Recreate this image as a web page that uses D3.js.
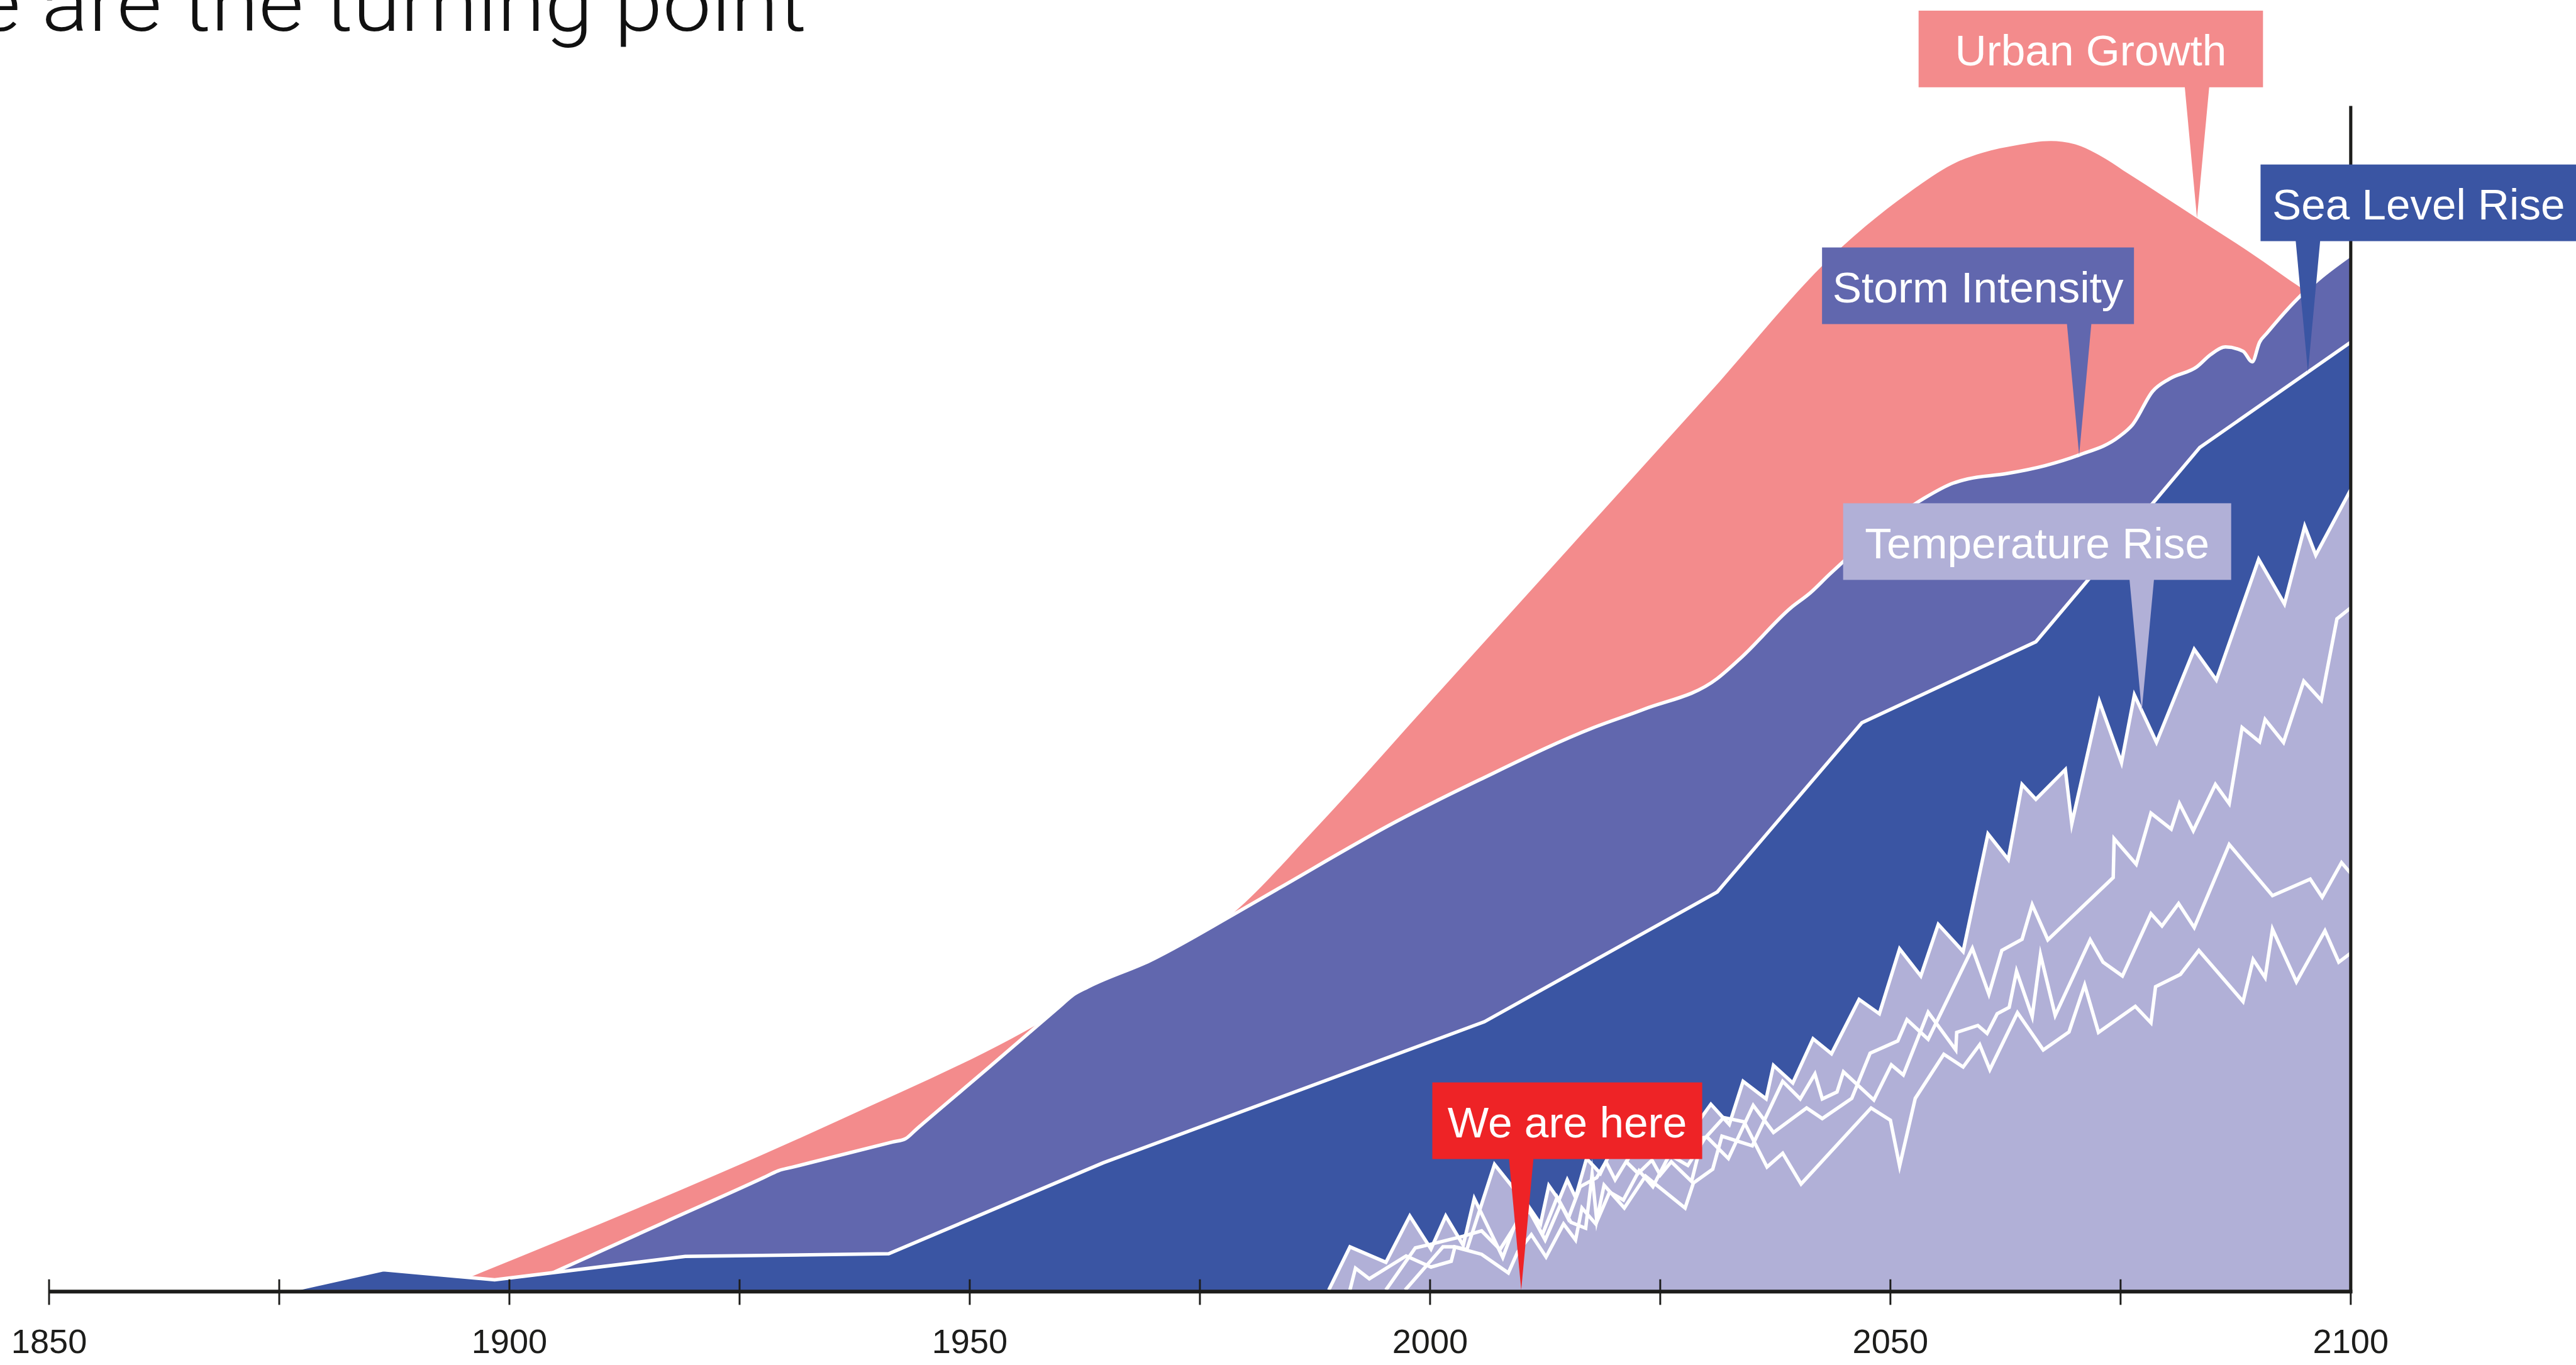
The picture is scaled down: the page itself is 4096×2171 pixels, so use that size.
<!DOCTYPE html>
<html><head><meta charset="utf-8">
<script src="https://cdn.jsdelivr.net/npm/d3@7/dist/d3.min.js"></script>
<style>html,body{margin:0;padding:0;background:#fff;overflow:hidden}</style>
</head><body>
<svg id="chart" width="4096" height="2171" viewBox="0 0 4839 2565"></svg>
<script>
// ---------------- DATA ----------------
const titleText = "We are the turning point";
const tickYears = [1850, 1875, 1900, 1925, 1950, 1975, 2000, 2025, 2050, 2075, 2100];
const tickLabels = [1850, 1900, 1950, 2000, 2050, 2100];

const urbanGrowth = [[1892.3,0],[1935.7,31.8],[1954.5,47.2],[1966,58.5],[1978.6,70.8],[1987.5,86.6],[2000,110.5],[2015,139.2],[2030,167.9],
 [2044.6,195.8],[2047.3,199.9],[2052,206.2],[2057.3,212.0],[2060,213.7],[2063.7,215.1],[2067.4,215.9],[2070,215.3],
 [2072.2,213.7],[2075.9,209.7],[2083.3,201.4],[2089.2,194.8],[2094.7,188.2],[2100,182.4]];

const stormIntensity = [[1900.6,0],[1905.7,4.0],[1917,12.85],[1927.6,21.1],[1929.2,22.4],[1930.8,23.1],[1941.6,27.8],[1943.0,28.4],
 [1944.2,30.2],[1952,41.7],[1959.8,53.3],[1961.2,55.4],[1962.8,56.9],[1969.6,61.9],[1978.6,70.5],[1983.9,75.8],
 [1996.4,88.1],[2005.3,95.8],[2017.8,105.7],[2023.2,109.1],
 [2031.2,114.9],[2033.9,119.0],[2039.2,128.2],[2041.3,131.0],[2043.4,134.5],[2053.5,148.6],[2056.8,151.6],[2058.4,152.4],
 [2062.6,153.4],[2066.8,154.9],[2070.5,156.9],[2074.8,160.3],[2076.3,162.6],[2078.5,168.9],[2080.3,171.2],[2083.3,173.5],
 [2084.8,175.8],[2086.4,177.2],[2088.3,176.4],[2089.3,174.4],[2090.1,178.1],[2090.9,179.8],[2094.3,186.4],[2096.5,189.9],[2100,194.5]];

const seaLevelRise = [[1876.5,0],[1886.3,3.8],[1898.4,1.9],[1919.1,6.3],[1941.2,6.8],[1964.5,23.9],[2005.9,50.4],
 [2031.2,74.8],[2046.9,106.6],[2065.8,121.8],[2083.6,158.3],[2100,178.1]];

const temperatureA = [[1989.0,0],[1991.3,8.1],[1995.2,5.2],[1997.8,13.9],[2000.1,7.7],[2001.7,13.9],[2003.6,8.4],[2004.8,17.2],
 [2007.9,6.1],[2009.1,11.7],[2010.5,16.2],[2012.0,12.4],[2012.9,19.6],[2014.0,16.9],[2014.9,20.7],[2015.8,17.4],[2017.0,24.7],
 [2018.5,21.9],[2020.0,27.4],[2021.5,24.6],[2023.0,29.6],[2024.5,26.4],[2026.0,31.4],[2027.8,28.4],[2030.5,34.9],[2032.5,31.1],
 [2034.0,39.2],[2036.5,35.9],[2037.3,42.2],[2039.4,38.9],[2041.6,47.2],[2043.6,44.4],[2046.6,54.6],[2048.8,51.9],[2051.0,64.1],
 [2053.3,59.0],[2055.2,68.7],[2057.9,63.6],[2060.6,85.7],[2062.8,80.9],[2064.3,95.0],[2065.8,92.2],[2069.0,97.8],[2069.7,87.6],
 [2072.7,110.6],[2075.1,99.1],[2076.5,111.8],[2078.9,102.9],[2083.0,120.4],[2085.4,114.6],[2090.0,137.3],[2092.8,128.9],
 [2095.0,143.5],[2096.2,138.1],[2100,150.4]];

const temperatureB = [[1991.3,0],[1991.9,4.1],[1993.4,2.1],[1997.4,6.4],[2000.1,4.3],[2002.3,5.4],[2002.7,8.1],[2004.0,7.6],
 [2007.0,23.6],[2008.8,19.7],[2010.7,15.1],[2012.2,10.4],[2013.8,17.4],[2015.0,13.4],[2016.3,19.4],[2018.1,21.1],[2019.1,24.1],
 [2020.1,20.7],[2021.3,24.1],[2022.6,21.9],[2024.1,24.4],[2025.0,21.6],[2026.2,24.1],[2028.4,20.4],[2029.6,28.6],[2030.1,28.7],
 [2032.4,24.7],[2035.1,34.7],[2037.3,29.6],[2040.9,34.2],[2042.6,32.2],[2045.8,36.0],[2047.8,44.5],[2050.8,46.8],[2051.8,50.8],
 [2054.1,47.1],[2058.9,64.2],[2060.7,55.6],[2062.1,63.8],[2064.3,65.9],[2065.4,72.4],[2067.1,65.8],[2074.2,77.5],[2074.3,84.8],
 [2076.7,80.0],[2078.3,89.6],[2080.5,86.6],[2081.4,91.4],[2082.9,86.3],[2085.3,95.0],[2086.8,91.4],[2088.2,105.7],[2090.1,103.0],
 [2090.7,107.2],[2092.7,102.9],[2094.9,114.4],[2096.8,110.8],[2098.5,126.1],[2100,128.2]];

const temperatureC = [[1995.2,0],[1998.4,7.9],[2000.1,8.6],[2003.6,10.1],[2005.6,11.1],[2007.6,7.6],[2009.1,11.7],[2010.8,14.9],
 [2012.5,9.4],[2014.2,16.2],[2015.3,12.7],[2016.9,11.6],[2017.6,21.7],[2018.1,13.1],[2018.9,19.7],[2021.1,15.4],[2023.4,21.4],
 [2027.7,15.4],[2028.6,20.1],[2030.7,22.7],[2031.7,28.9],[2035.0,27.1],[2038.3,39.2],[2040.2,35.9],[2041.8,40.6],[2042.6,35.9],
 [2044.2,37.2],[2044.9,41.0],[2048.2,35.7],[2050.1,42.3],[2051.4,40.4],[2054.1,52.2],[2057.1,45.1],[2057.2,48.4],[2059.5,49.7],
 [2060.5,48.2],[2061.6,51.9],[2062.9,53.1],[2063.7,59.9],[2065.4,51.4],[2066.3,63.0],[2067.9,51.6],[2071.7,65.8],[2073.1,61.6],
 [2075.2,59.0],[2078.3,70.7],[2079.5,68.4],[2081.3,72.6],[2083.0,68.1],[2086.8,83.7],[2091.5,74.1],[2095.6,77.2],[2096.9,73.8],
 [2099.0,80.3],[2100,78.3]];

const temperatureD = [[1997.3,0],[2001.4,8.1],[2002.6,8.1],[2005.6,6.7],[2008.5,3.2],[2009.5,7.1],[2011.0,10.4],[2012.6,6.2],
 [2014.5,12.4],[2015.8,9.4],[2016.5,15.4],[2018.0,12.4],[2019.5,18.4],[2021.0,16.9],[2022.7,22.4],[2024.2,19.4],[2026.0,25.4],
 [2028.0,23.4],[2029.8,28.4],[2031.9,32.4],[2034.1,31.6],[2036.6,23.1],[2038.3,25.7],[2040.3,19.9],[2047.9,34.2],[2050.0,31.9],
 [2051.0,23.3],[2052.7,36.0],[2055.8,44.3],[2057.9,41.9],[2059.7,46.1],[2060.8,41.4],[2063.8,52.1],[2066.6,45.1],[2069.4,48.5],
 [2071.1,57.3],[2072.6,48.4],[2076.6,53.3],[2078.3,50.2],[2078.8,57.0],[2081.5,59.3],[2083.5,63.8],[2088.3,54.2],[2089.4,62.1],
 [2090.7,58.7],[2091.5,67.8],[2094.1,57.9],[2097.2,67.5],[2098.7,61.6],[2100,63.3]];

const labelTexts = ["Urban Growth", "Sea Level Rise", "Storm Intensity", "Temperature Rise", "We are here"];
const labelYears = [2083.3, 2095.35, 2070.5, 2077.3, 2009.9];
const labelSeries = ["urban", "sea", "storm", "tempA", "base"];

// ---------------- STYLE ----------------
const colors = {urban:"#F38B8C", storm:"#6167AE", sea:"#3A55A3", temp:"#B1B0D7", here:"#EE2326", axis:"#1d1d1b"};
const labelColors = [colors.urban, colors.sea, colors.storm, colors.temp, colors.here];
const boxDx = [-523, -89, -483, -561, -167];   // box left relative to pointer tip
const boxW  = [647, 594, 586, 729, 507];
const textFit = [null, 550, null, null, null];
const strokeW = 6.5;

const svg = d3.select("#chart");
const x = d3.scaleLinear().domain([1850, 2100]).range([92, 4416]);
const y = d3.scaleLinear().domain([0, 200]).range([2424, 424]);

const seriesMap = {urban: urbanGrowth, storm: stormIntensity, sea: seaLevelRise, tempA: temperatureA};
function valueAt(series, yr) {
  if (!series) return 0;
  for (let i = 1; i < series.length; i++) {
    if (series[i][0] >= yr) {
      const [x0, v0] = series[i-1], [x1, v1] = series[i];
      return v0 + (v1 - v0) * (yr - x0) / (x1 - x0);
    }
  }
  return series[series.length-1][1];
}

function areaGen(curve) {
  return d3.area().x(d => x(d[0])).y0(y(0)).y1(d => y(d[1])).curve(curve);
}
function lineGen(curve) {
  return d3.line().x(d => x(d[0])).y(d => y(d[1])).curve(curve);
}

// Title
svg.append("text").attr("x", -190).attr("y", 58)
  .attr("font-family", "Roboto, 'Liberation Sans', sans-serif").attr("font-weight", 300)
  .attr("font-size", 150).attr("textLength", 1705).attr("lengthAdjust", "spacingAndGlyphs")
  .attr("fill", "#111").text(titleText);

// Urban growth
svg.append("path").datum(urbanGrowth).attr("d", areaGen(d3.curveMonotoneX)).attr("fill", colors.urban);
// Storm
svg.append("path").datum(stormIntensity).attr("d", areaGen(d3.curveMonotoneX)).attr("fill", colors.storm);
svg.append("path").datum(stormIntensity).attr("d", lineGen(d3.curveMonotoneX)).attr("fill", "none").attr("stroke", "#fff").attr("stroke-width", strokeW);
// Sea level
svg.append("path").datum(seaLevelRise).attr("d", areaGen(d3.curveLinear)).attr("fill", colors.sea);
svg.append("path").datum(seaLevelRise).attr("d", lineGen(d3.curveLinear)).attr("fill", "none").attr("stroke", "#fff").attr("stroke-width", strokeW);
// Temperature
const temps = [temperatureA, temperatureB, temperatureC, temperatureD];
temps.forEach(t => svg.append("path").datum(t).attr("d", areaGen(d3.curveLinear)).attr("fill", colors.temp));
temps.forEach(t => svg.append("path").datum(t).attr("d", lineGen(d3.curveLinear)).attr("fill", "none")
  .attr("stroke", "#fff").attr("stroke-width", strokeW).attr("stroke-linejoin", "miter").attr("stroke-miterlimit", 10));

// Axis
svg.append("line").attr("x1", x(1850)).attr("x2", x(2100) + 3).attr("y1", 2427).attr("y2", 2427)
  .attr("stroke", colors.axis).attr("stroke-width", 7);
svg.append("line").attr("x1", x(2100)).attr("x2", x(2100)).attr("y1", 199).attr("y2", 2430)
  .attr("stroke", colors.axis).attr("stroke-width", 6);
svg.selectAll(".tick").data(tickYears).enter().append("line")
  .attr("x1", d => x(d)).attr("x2", d => x(d)).attr("y1", 2404).attr("y2", 2452)
  .attr("stroke", colors.axis).attr("stroke-width", 3.5);
svg.selectAll(".tl").data(tickLabels).enter().append("text")
  .attr("x", d => x(d)).attr("y", 2542).attr("text-anchor", "middle")
  .attr("font-family", "'Liberation Sans', Arial, sans-serif").attr("font-size", 64)
  .attr("fill", colors.axis).text(d => d);

// Annotations
labelTexts.forEach((txt, i) => {
  const tx = x(labelYears[i]);
  const ty = y(valueAt(seriesMap[labelSeries[i]], labelYears[i]));
  const top = ty - 390, h = 144, left = tx + boxDx[i];
  const g = svg.append("g");
  g.append("path").attr("d", `M${tx-23},${top+h-1}L${tx+23},${top+h-1}L${tx},${ty}Z`).attr("fill", labelColors[i]);
  g.append("rect").attr("x", left).attr("y", top).attr("width", boxW[i]).attr("height", h).attr("fill", labelColors[i]);
  const t = g.append("text").attr("x", left + boxW[i]/2).attr("y", top + 103).attr("text-anchor", "middle")
    .attr("font-family", "'Liberation Sans', Arial, sans-serif").attr("font-size", 82).attr("fill", "#fff").text(txt);
  if (textFit[i]) t.attr("textLength", textFit[i]).attr("lengthAdjust", "spacingAndGlyphs");
});
</script>
</body></html>
